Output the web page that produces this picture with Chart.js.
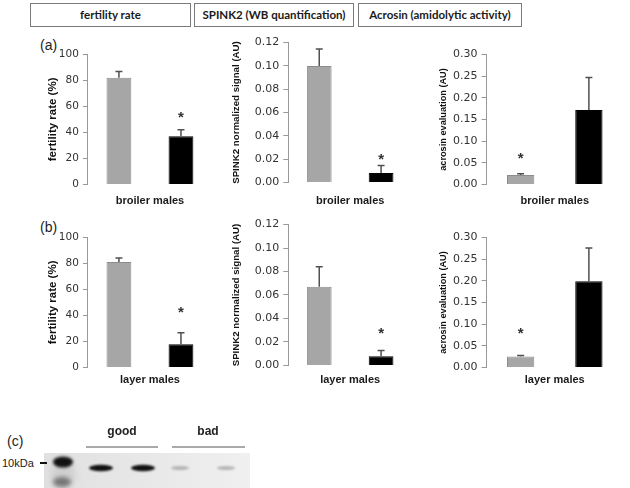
<!DOCTYPE html>
<html>
<head>
<meta charset="utf-8">
<script src="https://cdn.jsdelivr.net/npm/chart.js@4/dist/chart.umd.min.js"></script>
<style>
  body { margin: 0; background: #fff; }
  #fig { position: relative; width: 630px; height: 488px; overflow: hidden; background: #fff; font-family: 'Liberation Sans', Arial, sans-serif; color: #222; }
  .head { position: absolute; top: 3px; height: 24px; box-sizing: border-box; border: 1px solid #7a7a7a; text-align: center; line-height: 22px; font-family: Lato, 'Liberation Sans', sans-serif; font-weight: bold; font-size: 11.5px; color: #1a1a1a; }
  .tag { position: absolute; font-size: 14px; }
  canvas { position: absolute; }
</style>
</head>
<body>
<div id="fig">
  <div class="tag" style="left:40px; top:37px;">(a)</div>
  <div class="tag" style="left:40px; top:219px;">(b)</div>
  <div class="tag" style="left:7px; top:433px;">(c)</div>
  <div style="position:absolute; left:2px; top:457px; font-size:11px;">10kDa</div>
</div>

<script>
// categories
const groups = ['broiler males', 'layer males'];
const males = ['good', 'bad'];
const panelTitles = ['fertility rate', 'SPINK2 (WB quantification)', 'Acrosin (amidolytic activity)'];
const axisTitles = ['fertility rate (%)', 'SPINK2 normalized signal (AU)', 'acrosin evaluation (AU)'];
const axisMax = [100, 0.12, 0.30];
const axisStep = [20, 0.02, 0.05];
const axisDecimals = [0, 2, 2];

// values, [broiler, layer] x [good, bad]
const fertilityMean = [[82, 37], [81, 17.7]];
const fertilityErr = [[4.7, 5], [3, 9]];
const fertilityStar = [[null, 53], [null, 44.5]];

const spink2Mean = [[0.100, 0.008], [0.067, 0.0078]];
const spink2Err = [[0.0145, 0.0065], [0.017, 0.005]];
const spink2Star = [[null, 0.022], [null, 0.029]];

const acrosinMean = [[0.022, 0.172], [0.025, 0.199]];
const acrosinErr = [[0.0025, 0.075], [0.0025, 0.077]];
const acrosinStar = [[0.065, null], [0.085, null]];

const means = [fertilityMean, spink2Mean, acrosinMean];
const errs = [fertilityErr, spink2Err, acrosinErr];
const stars = [fertilityStar, spink2Star, acrosinStar];
const barColors = ['#a6a6a6', '#000000'];

// page layout (pixels)
const headLeft = [30, 194, 358];
const headWidth = [161, 160, 164];
const axisLeft = [88, 288, 487];
const plotWidth = [124, 124, 136];
const plotTop = [[54, 42, 54], [237, 224, 237]];
const plotBottom = [[184, 182, 184], [367, 365, 367]];
const titleGap = [35, 51.5, 43];
const titleSize = [11.5, 9.7, 9.2];
const tickSize = [10.5, 11, 11];
const groupLabelY = [201, 380];

const fig = document.getElementById('fig');

panelTitles.forEach((t, p) => {
    const d = document.createElement('div');
    d.className = 'head';
    d.style.left = headLeft[p] + 'px';
    d.style.width = headWidth[p] + 'px';
    d.textContent = t;
    fig.appendChild(d);
});

// error bars + significance stars
const errorBars = {
    id: 'errorBars',
    afterDatasetsDraw(chart) {
        const ctx = chart.ctx;
        const y = chart.scales.y;
        const ds = chart.data.datasets[0];
        const meta = chart.getDatasetMeta(0);
        ctx.save();
        ctx.strokeStyle = '#505050';
        ctx.lineWidth = 1.5;
        meta.data.forEach((bar, i) => {
            const base = y.getPixelForValue(ds.data[i]);
            const top = y.getPixelForValue(ds.data[i] + ds.errors[i]);
            ctx.beginPath();
            ctx.moveTo(bar.x, base);
            ctx.lineTo(bar.x, top);
            ctx.moveTo(bar.x - 3.5, top);
            ctx.lineTo(bar.x + 3.5, top);
            ctx.stroke();
            if (ds.stars[i] != null) {
                ctx.fillStyle = '#333';
                ctx.font = 'bold 15px "Liberation Sans"';
                ctx.textAlign = 'center';
                ctx.textBaseline = 'alphabetic';
                ctx.fillText('*', bar.x, y.getPixelForValue(ds.stars[i]) + 7);
            }
        });
        ctx.restore();
    }
};

groups.forEach((g, r) => {
    axisTitles.forEach((title, p) => {
        const yw = titleGap[p] + titleSize[p] * 1.2 / 2;
        const padTop = 10, padRight = 6;
        const left = axisLeft[p] - yw;
        const top = plotTop[r][p] - padTop;
        const bottom = groupLabelY[r] + 11 * 1.2 / 2;
        const xh = bottom - plotBottom[r][p];
        const w = Math.round(yw + plotWidth[p] + padRight);
        const h = Math.round(bottom - top);

        const cv = document.createElement('canvas');
        cv.width = w; cv.height = h;
        cv.style.left = left + 'px';
        cv.style.top = top + 'px';
        cv.style.width = w + 'px';
        cv.style.height = h + 'px';
        fig.appendChild(cv);

        new Chart(cv.getContext('2d'), {
            type: 'bar',
            data: {
                labels: males,
                datasets: [{
                    data: means[p][r],
                    errors: errs[p][r],
                    stars: stars[p][r],
                    backgroundColor: barColors,
                    borderColor: ['#8c8c8c', '#000'],
                    borderWidth: 1,
                    barPercentage: 0.4,
                    categoryPercentage: 1
                }]
            },
            options: {
                responsive: false,
                animation: false,
                devicePixelRatio: 1,
                layout: { padding: { top: padTop, right: padRight, left: 0, bottom: 0 } },
                plugins: { legend: { display: false }, tooltip: { enabled: false } },
                scales: {
                    x: {
                        grid: { display: false },
                        border: { display: false },
                        ticks: { display: false },
                        title: { display: true, text: g, color: '#1a1a1a', padding: 0,
                                 font: { family: 'Liberation Sans', weight: 'bold', size: 11 } },
                        afterFit(s) { s.height = xh; }
                    },
                    y: {
                        min: 0,
                        max: axisMax[p],
                        ticks: {
                            stepSize: axisStep[p],
                            padding: 4,
                            color: '#333',
                            font: { family: 'DejaVu Sans', size: tickSize[p] },
                            callback: v => Number(v).toFixed(axisDecimals[p])
                        },
                        grid: { drawOnChartArea: false, tickLength: 5, color: '#999' },
                        border: { color: '#999' },
                        title: { display: true, text: title, color: '#111', padding: 0,
                                 font: { family: 'Liberation Sans', weight: 'bold', size: titleSize[p] } },
                        afterFit(s) { s.width = yw; }
                    }
                }
            },
            plugins: [errorBars]
        });
    });
});

// (c) western blot strip
const blot = document.createElement('canvas');
blot.width = 260; blot.height = 73;
blot.style.left = '0px'; blot.style.top = '415px';
fig.appendChild(blot);
const bx = blot.getContext('2d');

bx.fillStyle = '#222';
bx.font = 'bold 12px "Liberation Sans"';
bx.textAlign = 'center';
bx.textBaseline = 'middle';
bx.fillText('good', 122, 17);
bx.fillText('bad', 208, 17);
bx.strokeStyle = '#555';
bx.lineWidth = 1.2;
bx.beginPath();
bx.moveTo(86, 32); bx.lineTo(158, 32);
bx.moveTo(172, 32); bx.lineTo(245, 32);
bx.stroke();

const bg = bx.createLinearGradient(44, 0, 250, 0);
bg.addColorStop(0, '#e0e0e0');
bg.addColorStop(1, '#f0f0f0');
bx.fillStyle = bg;
bx.fillRect(44, 38, 206, 35);

function band(cx, cy, rx, ry, color, blur) {
    bx.save();
    bx.filter = 'blur(' + blur + 'px)';
    bx.fillStyle = color;
    bx.beginPath();
    bx.ellipse(cx, cy, rx, ry, 0, 0, Math.PI * 2);
    bx.fill();
    bx.restore();
}
band(63, 60, 12, 14, '#cfcfcf', 3);
band(63, 47, 10, 5.5, '#111', 1.5);
band(62, 67, 9, 5, '#777', 2);
band(101, 53, 12, 3.2, '#111', 1);
band(143, 53, 12, 3.2, '#111', 1);
band(180, 53, 9, 2, '#b5b5b5', 1.2);
band(226, 53, 9, 2, '#b5b5b5', 1.2);

bx.fillStyle = '#111';
bx.fillRect(40, 47, 7, 2);
</script>
</body>
</html>
